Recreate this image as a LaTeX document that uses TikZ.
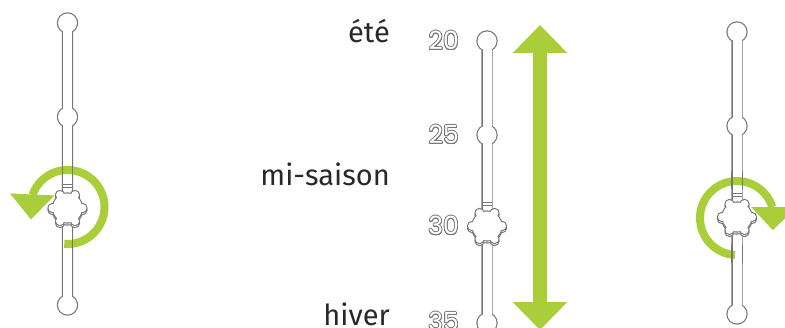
\documentclass[tikz,border=0pt]{standalone}
\usepackage{fontspec}
\setmainfont{Fira Sans}
\newfontfamily\numfont{Poppins}
\usepackage[copies]{contour}
\usetikzlibrary{arrows.meta}
\usetikzlibrary{calc}

\definecolor{leafgreen}{RGB}{170,206,58}
\definecolor{railgray}{RGB}{118,118,118}
\definecolor{textgray}{RGB}{40,40,40}
\contourlength{0.8pt}

\begin{document}
\begin{tikzpicture}[x=1pt, y=1pt,
  season/.style={anchor=base east, inner sep=0pt, text=textgray, font=\fontsize{29}{32}\selectfont},
  temp/.style={anchor=east, inner sep=0pt, font=\numfont\fontsize{25}{27}\selectfont},
  turn/.style={draw=leafgreen, line width=8pt},
  tip/.style={fill=leafgreen, draw=none},
  outline/.style={draw=railgray, line width=2.4pt}]
        % Define the rail geometry
        \def\rad{9.5}
        \def\half{4.5}

        \useasboundingbox (0,0) rectangle (785,327);
        \clip (0,0) rectangle (785,327);

        % Draw the three rails (x position / top end)
        \foreach \x/\t in {67.5/304, 487/286, 737/295}
        {
          \draw[outline] (\x-\half,\t-282) rectangle (\x+\half,\t) (\x,\t) circle[radius=\rad] (\x,\t-94) circle[radius=\rad] (\x,\t-282) circle[radius=\rad];
          \fill[white] (\x-\half,\t-282) rectangle (\x+\half,\t);
          \fill[white] (\x,\t) circle[radius=\rad];
          \fill[white] (\x,\t-94) circle[radius=\rad];
          \fill[white] (\x,\t-282) circle[radius=\rad];
          % band above the knob
          \draw[railgray, line width=1pt] (\x-\half,\t-162) -- (\x+\half,\t-162) (\x-\half,\t-165) -- (\x+\half,\t-165);
          % knob, its shadow first
          \foreach \dy in {-2,0}
          {
            \begin{scope}[shift={(\x,\t-185+\dy)}]
              \draw[outline, line width=2.2pt] (0,0) circle[radius=14.5] \foreach \a in {0,60,...,300}{ (\a:15) circle[radius=4] };
              \fill[white] (0,0) circle[radius=14.5] \foreach \a in {0,60,...,300}{ (\a:15) circle[radius=4] };
            \end{scope}
          }
        }

        % Turning arrows round the outer knobs
        \coordinate (lc) at (67.5,120);
        \coordinate (rc) at (737,109);
        \draw[turn] (lc) ++(-95:37) arc[start angle=-95, end angle=161, radius=37] coordinate (lend);
        \fill[tip] (lend) ++(-22.5,1.5) -- ++(44.5,-2) -- ++(-23.5,-24) -- cycle;
        \draw[turn] (rc) ++(-93:37) arc[start angle=-93, end angle=-343, radius=37] coordinate (rend);
        \fill[tip] (rend) ++(-21,0) -- ++(45,0) -- ++(-23.5,-23) -- cycle;

        % rail lines show through the green
        \foreach \x/\k in {67.5/119, 737/110}
        {
          \draw[railgray, line width=1.2pt] (\x-\half-0.6,\k+28) -- (\x-\half-0.6,\k+46) (\x+\half+0.6,\k+28) -- (\x+\half+0.6,\k+46);
          \draw[railgray, line width=1.2pt] (\x-\half-0.6,\k-28) -- (\x-\half-0.6,\k-46) (\x+\half+0.6,\k-28) -- (\x+\half+0.6,\k-46);
        }

        % Double arrow between winter and summer
        \coordinate (cold) at (540,-3);
        \coordinate (hot) at (540,302);
        \draw[leafgreen, line width=14pt, {Triangle[width=53pt,length=28pt]}-{Triangle[width=53pt,length=28pt]}] (cold) -- (hot);

        % Season labels
        \node[season] (summer) at (390,284) {été};
        \node[season] (midseason) at (390,141) {mi-saison};
        \node[season] (winter) at (390,2) {hiver};

        % Temperature marks
        \node[temp] (t20) at (459,286) {\contour{railgray}{\textcolor{white}{20}}};
        \node[temp] (t25) at (459,192) {\contour{railgray}{\textcolor{white}{25}}};
        \node[temp] (t30) at (459,101) {\contour{railgray}{\textcolor{white}{30}}};
        \node[temp] (t35) at (459,5) {\contour{railgray}{\textcolor{white}{35}}};
      \end{tikzpicture}
\end{document}
